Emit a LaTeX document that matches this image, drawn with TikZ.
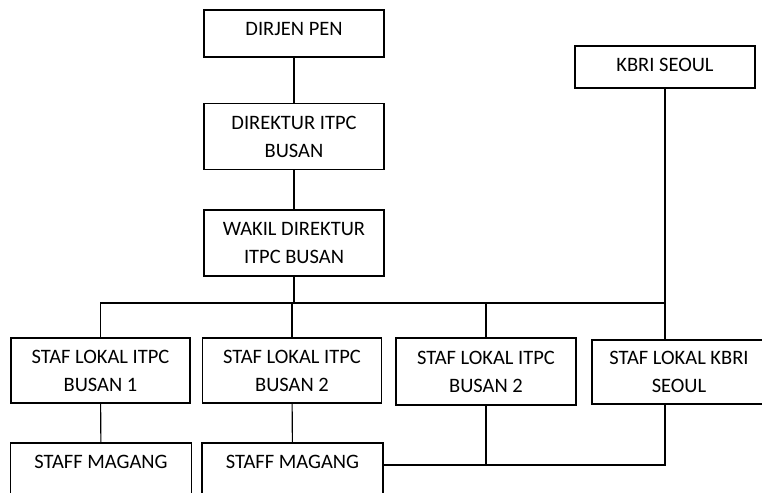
\documentclass[tikz,border=0pt]{standalone}
\usepackage{fontspec}
\setmainfont{Carlito}
\usepackage{tikz}
\usetikzlibrary{positioning,calc}
\tikzset{
  unit/.style={draw,line width=1.1pt,align=center,inner sep=0pt,
    font=\fontsize{20.5}{28}\selectfont},
  link/.style={line width=1.1pt}
}

\begin{document}
\begin{tikzpicture}[x=1pt,y=-1pt]
\useasboundingbox (0,0) rectangle (762,492);
\clip (0,0) rectangle (762,492);
\node[unit,minimum width=180,minimum height=47,text depth=9pt] (dirjen) at (294,33.5) {DIRJEN PEN};
\node[unit,minimum width=180,minimum height=66] (direktur) at (294,136.5) {DIREKTUR ITPC\\BUSAN};
\node[unit,minimum width=180,minimum height=66] (wakil) at (294,243) {WAKIL DIREKTUR\\ITPC BUSAN};
\node[unit,minimum width=180,minimum height=42,text depth=4pt] (kbri) at (665,67) {KBRI SEOUL};
\node[unit,minimum width=179,minimum height=65] (staf1) at (100.5,370.5) {STAF LOKAL ITPC\\BUSAN 1};
\node[unit,minimum width=179,minimum height=65] (staf2) at (292,370.5) {STAF LOKAL ITPC\\BUSAN 2};
\node[unit,minimum width=180,minimum height=67] (staf3) at (486,371.5) {STAF LOKAL ITPC\\BUSAN 2};
\node[unit,minimum width=174,minimum height=64] (staf4) at (679,372) {STAF LOKAL KBRI\\SEOUL};
\node[unit,minimum width=181,minimum height=66] (magang1) at (101,476) {STAFF MAGANG\\\mbox{}};
\node[unit,minimum width=181,minimum height=66] (magang2) at (292.5,476) {STAFF MAGANG\\\mbox{}};
\coordinate (bus) at (0,303);
\coordinate (join) at (0,465);
\draw[link] (dirjen) -- (direktur);
\draw[link] (direktur) -- (wakil);
\draw[link] (wakil.south) -- (wakil.south |- bus);
\draw[link] (kbri.south) -- (kbri.south |- staf4.north);
\draw[link] (staf1.north) |- (kbri.south |- bus);
\draw[link] (staf2.north) -- (staf2.north |- bus);
\draw[link] (staf3.north) -- (staf3.north |- bus);
\draw[link] (staf1) -- (magang1);
\draw[link] (staf2) -- (magang2);
\draw[link] (magang2.east |- join) -| (kbri.south |- staf4.south);
\draw[link] (staf3.south) -- (staf3.south |- join);
\end{tikzpicture}
\end{document}
